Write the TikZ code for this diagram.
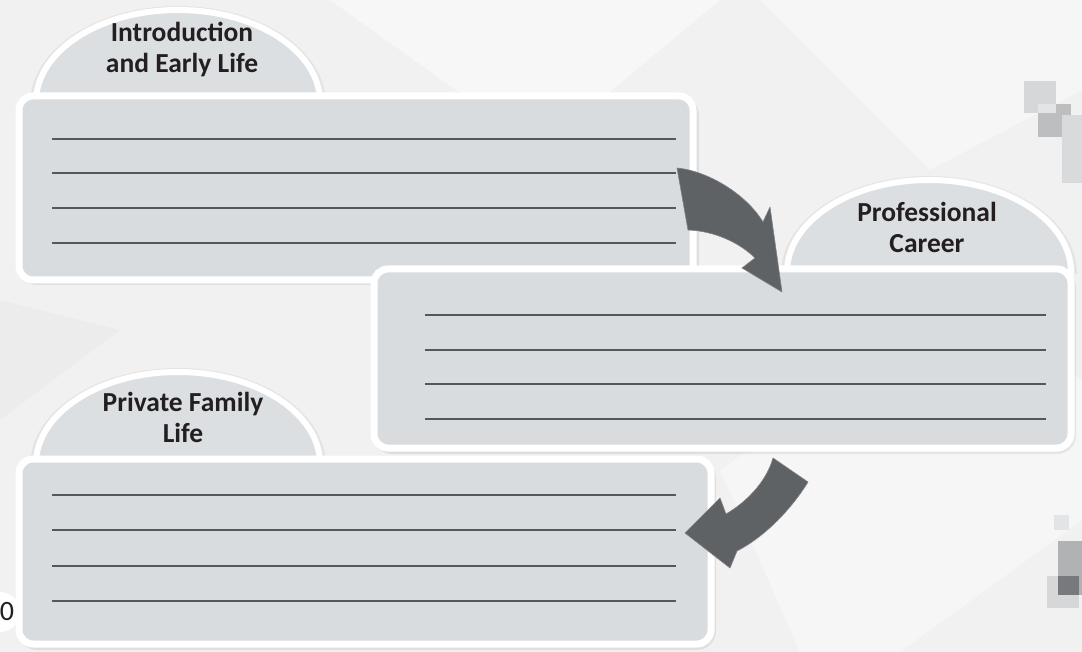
\documentclass[tikz,border=0pt]{standalone}
\usepackage{fontspec}
\setmainfont{Carlito}
\definecolor{bgcol}{HTML}{F1F1F2}
\definecolor{boxfill}{HTML}{D9DCDF}
\definecolor{tabfill}{HTML}{DCDFE2}
\definecolor{arrowcol}{HTML}{5F6265}
\definecolor{linecol}{HTML}{55585B}
\definecolor{txtcol}{HTML}{231F20}
\definecolor{sqA}{HTML}{D6D7D9}
\definecolor{sqB}{HTML}{BDBEC0}
\definecolor{sqC}{HTML}{D9DADC}
\definecolor{sqD}{HTML}{B1B2B4}
\definecolor{sqDark}{HTML}{77797C}
\definecolor{sqLight}{HTML}{E3E4E6}
\tikzset{
  boxshape/.style={rounded corners=14pt, fill=boxfill, draw=white, line width=7pt},
  boxshadow/.style={rounded corners=16pt, draw=black, line width=6pt, opacity=0.07},
  tabshape/.style={fill=tabfill, draw=white, line width=6pt},
  tabshadow/.style={draw=black, line width=12pt, opacity=0.05},
  writeline/.style={draw=linecol, line width=1.3pt},
  tabtext/.style={font=\bfseries\fontsize{27.5}{31}\selectfont, text=txtcol, align=center, inner sep=0pt},
  bigarrow/.style={fill=arrowcol, draw=arrowcol!80!white, line width=0.6pt, line join=round},
}
\begin{document}
\begin{tikzpicture}[x=1pt,y=-1pt]
\useasboundingbox (0,0) rectangle (1082,652);
% background
\fill[bgcol] (0,0) rectangle (1082,652);
\fill[white,opacity=0.45] (330,0) -- (720,0) -- (540,150) -- cycle;
\fill[white,opacity=0.4] (760,0) -- (1082,0) -- (1082,90) -- (930,170) -- cycle;
\fill[white,opacity=0.4] (720,470) -- (960,300) -- (1082,380) -- (1082,520) -- (900,652) -- (800,652) -- cycle;
\fill[black,opacity=0.02] (0,300) -- (120,330) -- (0,420) -- cycle;
% decorative squares, top right
\fill[sqB] (1038,104) rectangle (1071,137);
\fill[sqA] (1024,81) rectangle (1056,113);
\fill[sqLight] (1038,104) rectangle (1056,113);
\fill[sqC] (1062,115) rectangle (1082,183);
% decorative squares, bottom right
\fill[sqLight] (1054,515) rectangle (1069,530);
\fill[sqD] (1058,541) rectangle (1082,595);
\fill[sqA] (1047,576) rectangle (1079,608);
\fill[sqDark] (1058,576) rectangle (1079,595);

% ---- section 1
\draw[tabshadow] (36,104) arc[start angle=180, end angle=360, x radius=142, y radius=92];
\draw[tabshape] (36,102) arc[start angle=180, end angle=360, x radius=142, y radius=92] -- cycle;
\draw[boxshadow] (21,99) rectangle (696,282);
\draw[boxshape] (19,96) rectangle (693,280);
\foreach \yy in {139,173,208,243} \draw[writeline] (52,\yy) -- (676,\yy);
\node[tabtext] (t1) at (182,49) {Introduction\\and Early Life};

% ---- section 2
\draw[tabshadow] (787,274) arc[start angle=180, end angle=360, x radius=142, y radius=92];
\draw[tabshape] (787,272) arc[start angle=180, end angle=360, x radius=142, y radius=92] -- cycle;
\draw[boxshadow] (376,272) rectangle (1073,451);
\draw[boxshape] (374,269) rectangle (1071,448);
\foreach \yy in {315,350,384,419} \draw[writeline] (425,\yy) -- (1046,\yy);
\node[tabtext] (t2) at (927,227) {Professional\\Career};

% ---- section 3
\draw[tabshadow] (36,466) arc[start angle=180, end angle=360, x radius=142, y radius=92];
\draw[tabshape] (36,464) arc[start angle=180, end angle=360, x radius=142, y radius=92] -- cycle;
\draw[boxshadow] (21,462) rectangle (713,647);
\draw[boxshape] (19,459) rectangle (711,644);
\foreach \yy in {495,530,566,601} \draw[writeline] (52,\yy) -- (676,\yy);
\node[tabtext] (t3) at (183,417) {Private Family\\Life};

% ---- arrows
\path[bigarrow] (677,168) .. controls (708,171) and (746,194) .. (763,222)
  -- (770,207) -- (782,292) -- (742,268) -- (755,258)
  .. controls (740,243) and (715,231) .. (688,230) -- cycle;
\path[bigarrow] (773,458) -- (808,482)
  .. controls (792,508) and (766,536) .. (737,551)
  -- (730,568) -- (685,533) -- (720,498) -- (726,514)
  .. controls (745,503) and (766,483) .. (773,458) -- cycle;

% ---- page number fragment
\fill[white] (0,612) circle[radius=20];
\node[font=\fontsize{28}{30}\selectfont, text=txtcol, inner sep=0pt] (pg) at (7,612) {0};
\end{tikzpicture}
\end{document}
